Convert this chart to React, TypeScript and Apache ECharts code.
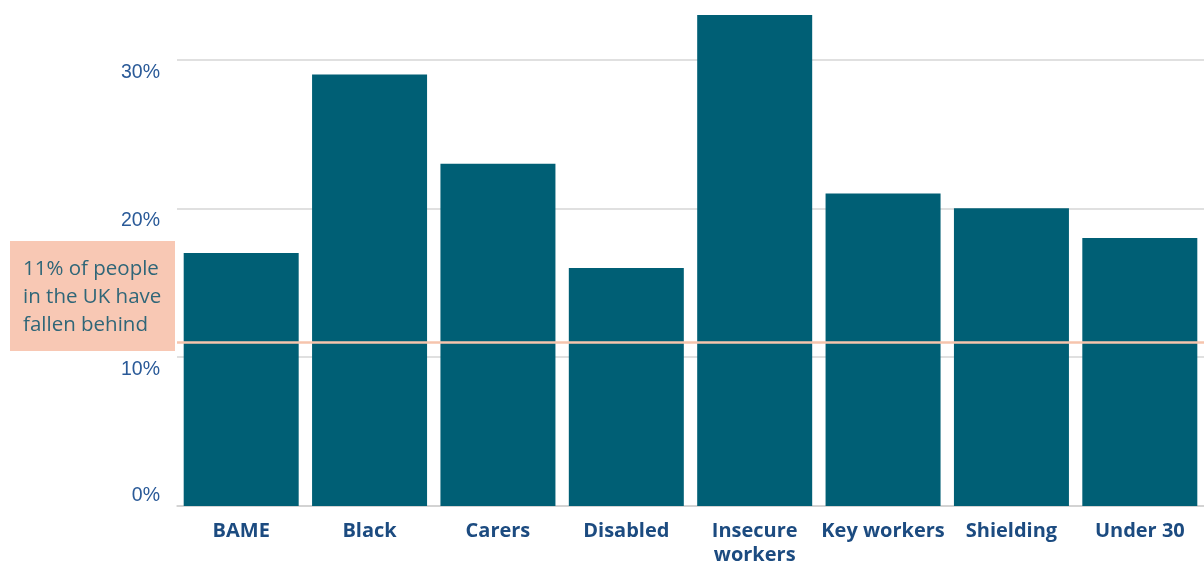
import React, { useEffect, useRef } from "react";
import * as echarts from "echarts";

const categories = ["BAME", "Black", "Carers", "Disabled", "Insecure\nworkers", "Key workers", "Shielding", "Under 30"];
const values = [17, 29, 23, 16, 33, 21, 20, 18];
const ukAverage = 11;
const yTicks = [0, 10, 20, 30];
const annotationLines = ["11% of people", "in the UK have", "fallen behind"];

export default function App() {
  const ref = useRef<HTMLDivElement>(null);
  useEffect(() => {
    if (!ref.current) return;
    const chart = echarts.init(ref.current, undefined, { renderer: "svg" });
    chart.setOption({
      animation: false,
      grid: { left: 177, right: -3, top: 0, bottom: 48, containLabel: false },
      xAxis: {
        type: "category",
        data: categories,
        axisLine: { show: true, lineStyle: { color: "#cfcfcf", width: 1.5 } },
        axisTick: { show: false },
        axisLabel: {
          interval: 0,
          margin: 11,
          color: "#1c4b80",
          fontFamily: "Open Sans",
          fontWeight: "bold",
          fontSize: 20,
          lineHeight: 24,
        },
      },
      yAxis: {
        type: "value",
        min: 0,
        max: 34,
        interval: 10,
        axisLine: { show: false },
        axisTick: { show: false },
        splitLine: { showMaxLine: false, lineStyle: { color: "#d6d6d6", width: 1.5 } },
        axisLabel: {
          margin: 17,
          showMaxLabel: false,
          formatter: (v: number) => {
            if (!yTicks.includes(v)) return "";
            return v === 0 ? `{z|${v}%}` : `{a|${v}%}`;
          },
          rich: {
            a: { color: "#2a5a98", fontFamily: "Liberation Sans", fontSize: 19.5, padding: [22, 0, 0, 0] },
            z: { color: "#2a5a98", fontFamily: "Liberation Sans", fontSize: 19.5, padding: [0, 0, 24, 0] },
          },
        },
      },
      series: [
        {
          type: "bar",
          data: values,
          barWidth: 115,
          itemStyle: { color: "#005f75" },
          markLine: {
            silent: true,
            symbol: "none",
            label: { show: false },
            lineStyle: { color: "#f6c4ad", width: 2.5, type: "solid" },
            data: [{ yAxis: ukAverage }],
          },
        },
      ],
      graphic: [
        {
          type: "rect",
          left: 10,
          top: 241,
          shape: { width: 165, height: 110 },
          style: { fill: "#f8c8b4" },
          z: 10,
        },
        {
          type: "text",
          left: 23,
          top: 253,
          z: 11,
          style: {
            text: annotationLines.join("\n"),
            fill: "#2f6678",
            font: "20.5px 'Open Sans'",
            lineHeight: 28,
          },
        },
      ],
    });
    return () => chart.dispose();
  }, []);
  return <div ref={ref} style={{ position: "fixed", left: 0, top: 0, width: 1204, height: 565 }} />;
}
